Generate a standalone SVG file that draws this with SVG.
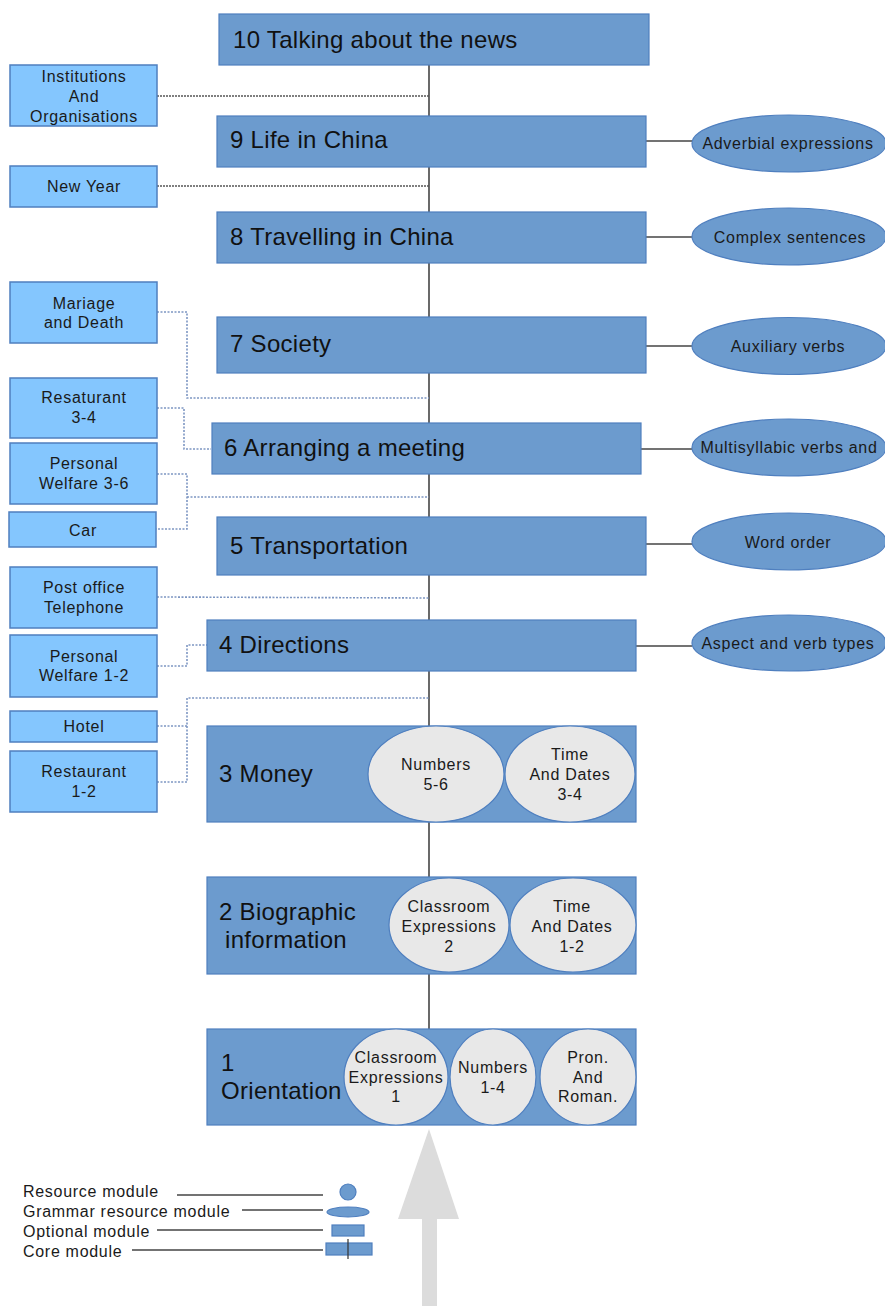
<svg xmlns="http://www.w3.org/2000/svg" width="885" height="1306" viewBox="0 0 885 1306">
<style>
.core{fill:#6c9bce;stroke:#4f7fbf;stroke-width:1.2}
.opt{fill:#84c6fe;stroke:#4f7fbf;stroke-width:1.5}
.gram{fill:#6c9bce;stroke:#4f7fbf;stroke-width:1.2}
.res{fill:#e8e8e8;stroke:#4f7fbf;stroke-width:1.2}
.t{font-family:"Liberation Sans",Arial,sans-serif;font-size:24px;letter-spacing:0.3px;fill:#111}
.s{font-family:"Liberation Sans",Arial,sans-serif;font-size:16px;letter-spacing:0.7px;fill:#1a1a1a;text-anchor:middle}
.l{font-family:"Liberation Sans",Arial,sans-serif;font-size:16px;letter-spacing:0.7px;fill:#1a1a1a}
.solid{stroke:#444;stroke-width:1.6;fill:none}
.dotd{stroke:#555;stroke-width:1.3;stroke-dasharray:2 1;fill:none}
.dotb{stroke:#7d96c2;stroke-width:1.6;stroke-dasharray:2 1.5;fill:none}
</style>

<!-- background arrow -->
<g id="progress-arrow">
<polygon points="429,1129 459,1219 437,1219 437,1306 422,1306 422,1219 398,1219" fill="#dcdcdc"/>
</g>

<!-- connectors -->
<g id="connectors">
<line class="solid" x1="429" y1="65" x2="429" y2="1029"/>
<line class="solid" x1="646" y1="141" x2="692" y2="141"/>
<line class="solid" x1="646" y1="237" x2="692" y2="237"/>
<line class="solid" x1="646" y1="346" x2="692" y2="346"/>
<line class="solid" x1="641" y1="449" x2="692" y2="449"/>
<line class="solid" x1="646" y1="544" x2="692" y2="544"/>
<line class="solid" x1="636" y1="646" x2="692" y2="646"/>
<line class="dotd" x1="157" y1="96" x2="429" y2="96"/>
<line class="dotd" x1="157" y1="186" x2="429" y2="186"/>
<polyline class="dotb" points="157,312 187,312 187,398 429,398"/>
<polyline class="dotb" points="157,408 184,408 184,449 211,449"/>
<polyline class="dotb" points="157,474 187,474 187,529 156,529"/>
<line class="dotb" x1="187" y1="497" x2="429" y2="497"/>
<line class="dotb" x1="157" y1="597" x2="429" y2="598"/>
<polyline class="dotb" points="157,666 187,666 187,645 207,645"/>
<polyline class="dotb" points="157,726 187,726"/>
<polyline class="dotb" points="157,782 187,782 187,698 429,698"/>
</g>

<!-- core modules -->
<g id="m10"><rect class="core" x="219" y="14" width="430" height="51"/><text class="t" x="233" y="48">10 Talking about the news</text></g>
<g id="m9"><rect class="core" x="217" y="116" width="429" height="51"/><text class="t" x="230" y="148">9 Life in China</text></g>
<g id="m8"><rect class="core" x="217" y="212" width="429" height="51"/><text class="t" x="230" y="245">8 Travelling in China</text></g>
<g id="m7"><rect class="core" x="217" y="317" width="429" height="56"/><text class="t" x="230" y="352">7 Society</text></g>
<g id="m6"><rect class="core" x="212" y="423" width="429" height="51"/><text class="t" x="224" y="456">6 Arranging a meeting</text></g>
<g id="m5"><rect class="core" x="217" y="517" width="429" height="58"/><text class="t" x="230" y="554">5 Transportation</text></g>
<g id="m4"><rect class="core" x="207" y="620" width="429" height="51"/><text class="t" x="219" y="653">4 Directions</text></g>
<g id="m3"><rect class="core" x="207" y="726" width="429" height="96"/><text class="t" x="219" y="782">3 Money</text>
<ellipse class="res" cx="436" cy="774" rx="68" ry="48"/><text class="s" x="436" y="770">Numbers</text><text class="s" x="436" y="790">5-6</text>
<ellipse class="res" cx="570" cy="774" rx="65" ry="48"/><text class="s" x="570" y="760">Time</text><text class="s" x="570" y="780">And Dates</text><text class="s" x="570" y="800">3-4</text></g>
<g id="m2"><rect class="core" x="207" y="877" width="429" height="97"/><text class="t" x="219" y="920">2 Biographic</text><text class="t" x="225" y="948">information</text>
<ellipse class="res" cx="449" cy="925" rx="60" ry="47"/><text class="s" x="449" y="912">Classroom</text><text class="s" x="449" y="932">Expressions</text><text class="s" x="449" y="952">2</text>
<ellipse class="res" cx="573" cy="925" rx="63" ry="47"/><text class="s" x="572" y="912">Time</text><text class="s" x="572" y="932">And Dates</text><text class="s" x="572" y="952">1-2</text></g>
<g id="m1"><rect class="core" x="207" y="1029" width="429" height="96"/><text class="t" x="221" y="1071">1</text><text class="t" x="221" y="1099">Orientation</text>
<ellipse class="res" cx="396" cy="1077" rx="52" ry="48"/><text class="s" x="396" y="1063">Classroom</text><text class="s" x="396" y="1083">Expressions</text><text class="s" x="396" y="1102">1</text>
<ellipse class="res" cx="493" cy="1077" rx="43" ry="48"/><text class="s" x="493" y="1073">Numbers</text><text class="s" x="493" y="1093">1-4</text>
<ellipse class="res" cx="588" cy="1077" rx="48" ry="48"/><text class="s" x="588" y="1063">Pron.</text><text class="s" x="588" y="1083">And</text><text class="s" x="588" y="1102">Roman.</text></g>

<!-- grammar resources -->
<g id="g9"><ellipse class="gram" cx="789" cy="143.5" rx="97" ry="28.5"/><text class="s" x="788" y="149">Adverbial expressions</text></g>
<g id="g8"><ellipse class="gram" cx="789" cy="236.5" rx="97" ry="28.5"/><text class="s" x="790" y="243">Complex sentences</text></g>
<g id="g7"><ellipse class="gram" cx="789" cy="346" rx="97" ry="28.5"/><text class="s" x="788" y="352">Auxiliary verbs</text></g>
<g id="g6"><ellipse class="gram" cx="789" cy="447.5" rx="97" ry="28.5"/><text class="s" x="789" y="453">Multisyllabic verbs and</text></g>
<g id="g5"><ellipse class="gram" cx="789" cy="541.5" rx="97" ry="28.5"/><text class="s" x="788" y="548">Word order</text></g>
<g id="g4"><ellipse class="gram" cx="789" cy="643" rx="97" ry="28"/><text class="s" x="788" y="649">Aspect and verb types</text></g>

<!-- optional modules -->
<g id="o-inst"><rect class="opt" x="10" y="65" width="147" height="61"/><text class="s" x="84" y="82">Institutions</text><text class="s" x="84" y="102">And</text><text class="s" x="84" y="122">Organisations</text></g>
<g id="o-newyear"><rect class="opt" x="10" y="166" width="147" height="41"/><text class="s" x="84" y="192">New Year</text></g>
<g id="o-mariage"><rect class="opt" x="10" y="282" width="147" height="61"/><text class="s" x="84" y="309">Mariage</text><text class="s" x="84" y="328">and Death</text></g>
<g id="o-rest34"><rect class="opt" x="10" y="378" width="147" height="60"/><text class="s" x="84" y="403">Resaturant</text><text class="s" x="84" y="423">3-4</text></g>
<g id="o-pw36"><rect class="opt" x="10" y="443" width="147" height="61"/><text class="s" x="84" y="469">Personal</text><text class="s" x="84" y="489">Welfare 3-6</text></g>
<g id="o-car"><rect class="opt" x="9" y="512" width="147" height="35"/><text class="s" x="83" y="536">Car</text></g>
<g id="o-post"><rect class="opt" x="10" y="567" width="147" height="61"/><text class="s" x="84" y="593">Post office</text><text class="s" x="84" y="613">Telephone</text></g>
<g id="o-pw12"><rect class="opt" x="10" y="635" width="147" height="62"/><text class="s" x="84" y="662">Personal</text><text class="s" x="84" y="681">Welfare 1-2</text></g>
<g id="o-hotel"><rect class="opt" x="10" y="711" width="147" height="31"/><text class="s" x="84" y="732">Hotel</text></g>
<g id="o-rest12"><rect class="opt" x="10" y="751" width="147" height="61"/><text class="s" x="84" y="777">Restaurant</text><text class="s" x="84" y="797">1-2</text></g>

<!-- legend -->
<g id="legend">
<text class="l" x="23" y="1197">Resource module</text>
<text class="l" x="23" y="1217">Grammar resource module</text>
<text class="l" x="23" y="1237">Optional module</text>
<text class="l" x="23" y="1257">Core module</text>
<line class="solid" x1="177" y1="1195" x2="323" y2="1195"/>
<line class="solid" x1="242" y1="1210" x2="323" y2="1210"/>
<line class="solid" x1="157" y1="1230" x2="323" y2="1230"/>
<line class="solid" x1="132" y1="1250" x2="323" y2="1250"/>
<circle class="gram" cx="348" cy="1192" r="8"/>
<ellipse class="gram" cx="348" cy="1212" rx="21" ry="5"/>
<rect class="gram" x="332" y="1225" width="32" height="11"/>
<rect class="gram" x="326" y="1243" width="46" height="12"/>
<line stroke="#333" stroke-width="1.2" x1="348" y1="1239" x2="348" y2="1259"/>
</g>
</svg>
